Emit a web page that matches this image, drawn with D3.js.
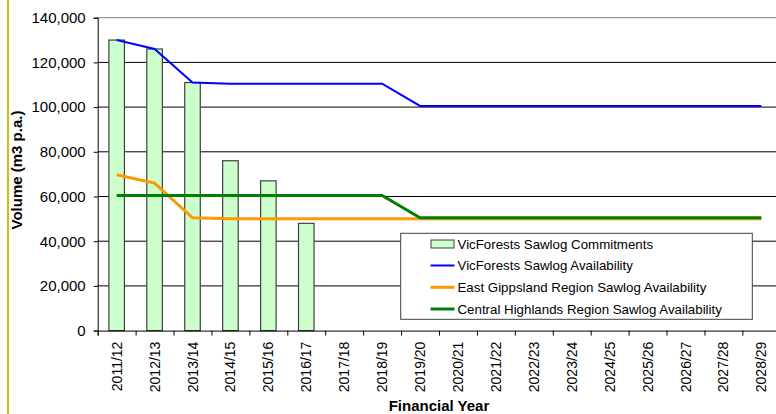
<!DOCTYPE html>
<html>
<head>
<meta charset="utf-8">
<script src="https://cdn.jsdelivr.net/npm/d3@7"></script>
<style>
  html, body { margin: 0; padding: 0; background: #fff; }
  svg { display: block; font-family: "Liberation Sans", Arial, sans-serif; }
</style>
</head>
<body>
<svg id="chart" width="776" height="414"></svg>
<script>
const categories = ["2011/12","2012/13","2013/14","2014/15","2015/16","2016/17","2017/18","2018/19","2019/20","2020/21","2021/22","2022/23","2023/24","2024/25","2025/26","2026/27","2027/28","2028/29"];
const commitments = [130000,126000,111000,76000,67000,48000,null,null,null,null,null,null,null,null,null,null,null,null];
const vicAvail = [130000,126000,111000,110500,110500,110500,110500,110500,100500,100500,100500,100500,100500,100500,100500,100500,100500,100500];
const eastGipps = [69700,66000,50500,50000,50000,50000,50000,50000,50000,50000,50000,50000,50000,50000,50000,50000,50000,50000];
const centralHigh = [60500,60500,60500,60500,60500,60500,60500,60500,50500,50500,50500,50500,50500,50500,50500,50500,50500,50500];
const yTicks = [0,20000,40000,60000,80000,100000,120000,140000];
const legendLabels = ["VicForests Sawlog Commitments","VicForests Sawlog Availability","East Gippsland Region Sawlog Availability","Central Highlands Region Sawlog Availability"];

(function () {
const svg = d3.select("#chart");
const pLeft = 97.7, pRight = 780.3, pTop = 17.7, pBottom = 330.6;

const x = d3.scaleBand().domain(categories).range([pLeft, pRight]).padding(0);
const xb = d3.scaleLinear().domain([0, categories.length]).range([pLeft, pRight]);
const y = d3.scaleLinear().domain([0, 140000]).range([pBottom, pTop]);

// yellow left rule
svg.append("line").attr("x1", 8).attr("x2", 8).attr("y1", 0).attr("y2", 414)
  .attr("stroke", "#c8c020").attr("stroke-width", 2.2);

// gridlines
svg.append("g").selectAll("line").data(yTicks.filter(d => d > 0)).join("line")
  .attr("x1", pLeft).attr("x2", 776)
  .attr("y1", d => y(d)).attr("y2", d => y(d))
  .attr("stroke", d => d === 140000 ? "#808080" : "#000").attr("stroke-width", 1);

// bars
const bw = x.bandwidth() * 0.41;
svg.append("g").selectAll("rect").data(categories.map((c, i) => ({c, v: commitments[i]})).filter(d => d.v != null)).join("rect")
  .attr("x", d => x(d.c) + (x.bandwidth() - bw) / 2)
  .attr("y", d => y(d.v))
  .attr("width", bw)
  .attr("height", d => y(0) - y(d.v))
  .attr("fill", "#ccffcc")
  .attr("stroke", "#404040").attr("stroke-width", 1.2);

// y axis
const yAxis = svg.append("g").attr("transform", `translate(${pLeft},0)`)
  .call(d3.axisLeft(y).tickValues(yTicks).tickFormat(d3.format(",")).tickSize(4).tickPadding(8));
yAxis.select(".domain").attr("stroke", "#000");
yAxis.selectAll("text").attr("font-size", 15).attr("fill", "#000")
  .attr("font-family", "'Liberation Sans', Arial, sans-serif");

// x axis labels
const xAxis = svg.append("g").attr("transform", `translate(0,${pBottom})`)
  .call(d3.axisBottom(x).tickSize(0).tickPadding(0));
xAxis.select(".domain").remove();
xAxis.selectAll("text")
  .attr("font-size", 14).attr("fill", "#000")
  .attr("font-family", "'Liberation Sans', Arial, sans-serif")
  .attr("transform", "rotate(-90)")
  .attr("text-anchor", "end")
  .attr("x", -11).attr("y", 0).attr("dy", "0.36em");

// x boundary ticks
const xTickAxis = svg.append("g").attr("transform", `translate(0,${pBottom})`)
  .call(d3.axisBottom(xb).tickValues(d3.range(0, categories.length + 1)).tickSize(5).tickFormat(""));
xTickAxis.select(".domain").attr("stroke", "#000");

// lines
const line = d3.line().x((d, i) => x(categories[i]) + x.bandwidth() / 2).y(d => y(d));
svg.append("path").datum(vicAvail).attr("d", line).attr("fill", "none").attr("stroke", "#0000ff").attr("stroke-width", 2);
svg.append("path").datum(eastGipps).attr("d", line).attr("fill", "none").attr("stroke", "#ff9900").attr("stroke-width", 3);
svg.append("path").datum(centralHigh).attr("d", line).attr("fill", "none").attr("stroke", "#008000").attr("stroke-width", 3);

// axis titles
svg.append("text").attr("transform", "translate(21.5,170) rotate(-90)")
  .attr("text-anchor", "middle").attr("font-size", 15).attr("font-weight", "bold").text("Volume (m3 p.a.)");
svg.append("text").attr("x", (pLeft + pRight) / 2).attr("y", 410.5)
  .attr("text-anchor", "middle").attr("font-size", 15).attr("font-weight", "bold").text("Financial Year");

// legend
const lg = svg.append("g");
lg.append("rect").attr("x", 400.7).attr("y", 233.3).attr("width", 351.6).attr("height", 86)
  .attr("fill", "#fff").attr("stroke", "#404040").attr("stroke-width", 1);
const rowsY = [244, 265.5, 287.3, 309];
const colors = [null, "#0000ff", "#ff9900", "#008000"];
const widths = [null, 2, 3, 3];
legendLabels.forEach((lab, i) => {
  if (i === 0) {
    lg.append("rect").attr("x", 431).attr("y", rowsY[i] - 4).attr("width", 23).attr("height", 8)
      .attr("fill", "#ccffcc").attr("stroke", "#404040").attr("stroke-width", 1);
  } else {
    lg.append("line").attr("x1", 430.5).attr("x2", 454.5).attr("y1", rowsY[i]).attr("y2", rowsY[i])
      .attr("stroke", colors[i]).attr("stroke-width", widths[i]);
  }
  lg.append("text").attr("x", 457.5).attr("y", rowsY[i]).attr("dy", "0.35em")
    .attr("font-size", 13.3).attr("fill", "#000").text(lab);
});
})();
</script>
</body>
</html>
